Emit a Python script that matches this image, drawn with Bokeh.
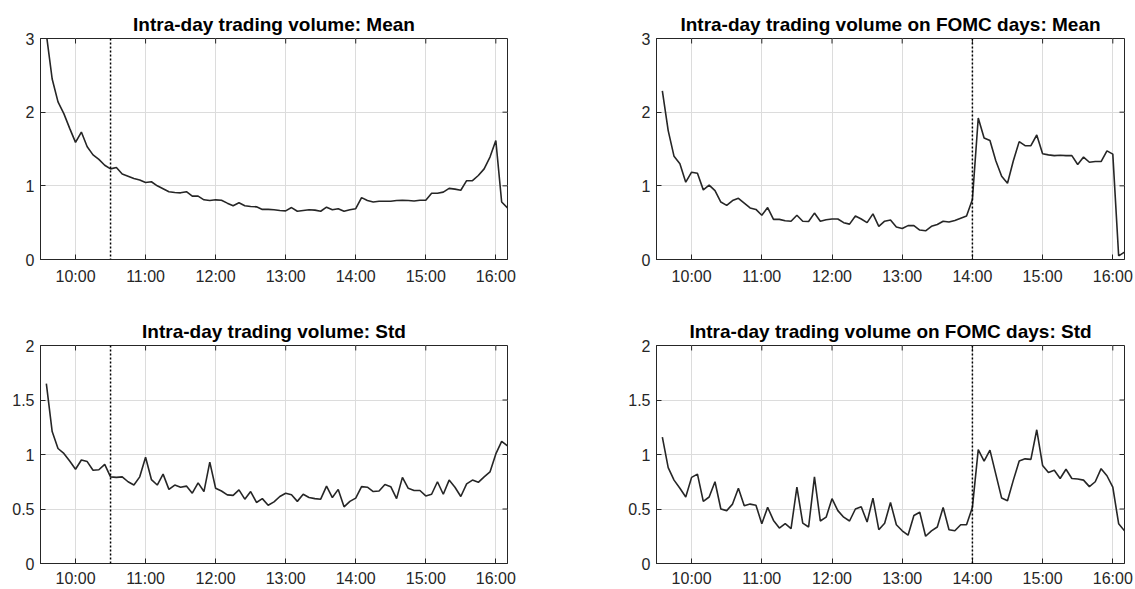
from bokeh.plotting import figure
from bokeh.layouts import column, row
from bokeh.models import Range1d, FixedTicker, Span
from bokeh.embed import file_html
from bokeh.resources import INLINE

# time grid: 5-minute bars from 09:35 to 16:10 (minutes after midnight)
times = [9 * 60 + 35 + 5 * i for i in range(80)]

x_ticks = [600, 660, 720, 780, 840, 900, 960]
x_tick_labels = ["10:00", "11:00", "12:00", "13:00", "14:00", "15:00", "16:00"]

mean_all = [3.06, 2.45, 2.14, 1.98, 1.78,
            1.59, 1.73, 1.53, 1.42, 1.36, 1.28, 1.23, 1.25, 1.16, 1.13, 1.10, 1.08,
            1.045, 1.055, 1.00, 0.96, 0.92, 0.91, 0.905, 0.92, 0.86, 0.86, 0.81, 0.80,
            0.81, 0.805, 0.765, 0.73, 0.77, 0.73, 0.72, 0.715, 0.68, 0.68, 0.675, 0.665,
            0.66, 0.705, 0.655, 0.665, 0.675, 0.67, 0.655, 0.71, 0.675, 0.69, 0.655, 0.675,
            0.69, 0.84, 0.80, 0.78, 0.79, 0.79, 0.79, 0.80, 0.805, 0.80, 0.795, 0.805,
            0.805, 0.90, 0.90, 0.915, 0.965, 0.955, 0.94, 1.07, 1.07, 1.14, 1.23, 1.39,
            1.615, 0.78, 0.70]

std_all = [1.65, 1.21, 1.055, 1.01, 0.94,
           0.865, 0.95, 0.935, 0.855, 0.86, 0.91, 0.795, 0.79, 0.795, 0.75, 0.72, 0.795,
           0.975, 0.77, 0.72, 0.82, 0.68, 0.72, 0.70, 0.71, 0.645, 0.74, 0.66, 0.93,
           0.69, 0.665, 0.63, 0.625, 0.675, 0.59, 0.66, 0.56, 0.595, 0.535, 0.565, 0.615,
           0.645, 0.63, 0.57, 0.635, 0.605, 0.595, 0.59, 0.71, 0.605, 0.68, 0.52, 0.57,
           0.60, 0.705, 0.70, 0.66, 0.665, 0.725, 0.705, 0.595, 0.79, 0.69, 0.67, 0.67,
           0.62, 0.635, 0.75, 0.635, 0.765, 0.70, 0.615, 0.73, 0.765, 0.745, 0.795, 0.84,
           1.005, 1.12, 1.08]

mean_fomc = [2.29, 1.75, 1.40, 1.30, 1.05,
             1.185, 1.17, 0.945, 1.01, 0.935, 0.78, 0.735, 0.80, 0.83, 0.765, 0.70, 0.68,
             0.60, 0.705, 0.545, 0.545, 0.525, 0.52, 0.60, 0.52, 0.515, 0.63, 0.52, 0.54,
             0.55, 0.55, 0.50, 0.48, 0.59, 0.55, 0.50, 0.62, 0.45, 0.52, 0.535, 0.44,
             0.42, 0.46, 0.46, 0.40, 0.39, 0.45, 0.475, 0.52, 0.51, 0.53, 0.56, 0.59,
             0.815, 1.92, 1.65, 1.615, 1.34, 1.13, 1.035, 1.34, 1.60, 1.545, 1.545, 1.69,
             1.435, 1.42, 1.41, 1.415, 1.41, 1.41, 1.29, 1.39, 1.32, 1.33, 1.33, 1.475,
             1.43, 0.05, 0.10]

std_fomc = [1.16, 0.88, 0.765, 0.69, 0.61,
            0.79, 0.82, 0.57, 0.61, 0.75, 0.50, 0.485, 0.545, 0.69, 0.53, 0.545, 0.535,
            0.365, 0.515, 0.395, 0.325, 0.365, 0.32, 0.70, 0.37, 0.335, 0.795, 0.39, 0.425,
            0.595, 0.485, 0.425, 0.39, 0.50, 0.52, 0.38, 0.60, 0.31, 0.37, 0.56, 0.355,
            0.30, 0.26, 0.44, 0.47, 0.25, 0.30, 0.335, 0.515, 0.31, 0.30, 0.355, 0.355,
            0.515, 1.045, 0.94, 1.04, 0.82, 0.60, 0.575, 0.765, 0.94, 0.96, 0.955, 1.227,
            0.90, 0.835, 0.855, 0.78, 0.865, 0.78, 0.775, 0.765, 0.705, 0.75, 0.87, 0.805,
            0.70, 0.365, 0.30]

mean_ticks = [0, 1, 2, 3]
mean_tick_labels = ["0", "1", "2", "3"]
std_ticks = [0, 0.5, 1, 1.5, 2]
std_tick_labels = ["0", "0.5", "1", "1.5", "2"]

titles = ["Intra-day trading volume: Mean",
          "Intra-day trading volume: Std",
          "Intra-day trading volume on FOMC days: Mean",
          "Intra-day trading volume on FOMC days: Std"]
event_times = [630, 840]  # 10:30 and 14:00

AX = "#262626"
FONT = "Liberation Sans"
X0, X1 = 570, 970
TICK_PX = 5


def make_panel(title, ys, yticks, ylabels, ymax, event, width, height, bl, br, bt, bb,
               standoff):
    p = figure(width=width, height=height, output_backend="svg", toolbar_location=None,
               x_range=Range1d(X0, X1), y_range=Range1d(0, ymax),
               min_border_left=bl, min_border_right=br,
               min_border_top=bt, min_border_bottom=bb)
    p.title.text = title
    p.title.align = "center"
    p.title.text_font = FONT
    p.title.text_font_style = "bold"
    p.title.text_font_size = "19px"
    p.title.text_color = "black"
    p.title.standoff = 7
    p.outline_line_color = AX
    p.outline_line_width = 1
    p.outline_line_alpha = 1
    p.background_fill_color = "white"
    p.border_fill_color = "white"

    xt = FixedTicker(ticks=x_ticks)
    yt = FixedTicker(ticks=yticks)
    p.xaxis.ticker = xt
    p.yaxis.ticker = yt
    p.xaxis.major_label_overrides = dict(zip(x_ticks, x_tick_labels))
    p.yaxis.major_label_overrides = dict(zip(yticks, ylabels))
    for ax in (p.xaxis[0], p.yaxis[0]):
        ax.axis_line_color = AX
        ax.major_tick_line_color = AX
        ax.major_tick_in = TICK_PX
        ax.major_tick_out = 0
        ax.minor_tick_line_color = None
        ax.major_label_text_font = FONT
        ax.major_label_text_font_size = "16px"
        ax.major_label_text_color = AX
    p.xaxis.major_label_standoff = standoff
    p.yaxis.major_label_standoff = 6

    p.xgrid.ticker = xt
    p.ygrid.ticker = yt
    p.grid.grid_line_color = "#dcdcdc"
    p.grid.grid_line_width = 1

    # inward ticks on the top and right sides of the box
    fw = width - bl - br
    fh = height - bt - bb
    dy = TICK_PX * ymax / fh
    dx = TICK_PX * (X1 - X0) / fw
    p.segment(x0=x_ticks, y0=[ymax] * len(x_ticks), x1=x_ticks,
              y1=[ymax - dy] * len(x_ticks), line_color=AX, line_width=1)
    p.segment(x0=[X1] * len(yticks), y0=yticks, x1=[X1 - dx] * len(yticks),
              y1=yticks, line_color=AX, line_width=1)

    p.line(times, ys, line_color="#262626", line_width=1.6)
    p.add_layout(Span(location=event, dimension="height", line_color="black",
                      line_width=1.5, line_dash="2 2"))
    return p


p1 = make_panel(titles[0], mean_all, mean_ticks, mean_tick_labels, 3, event_times[0],
                567, 294, 40, 60, 38, 35, 8)
p2 = make_panel(titles[1], std_all, std_ticks, std_tick_labels, 2, event_times[0],
                567, 295, 40, 60, 51, 25, 6)
p3 = make_panel(titles[2], mean_fomc, mean_ticks, mean_tick_labels, 3, event_times[1],
                568, 294, 89, 11, 38, 35, 8)
p4 = make_panel(titles[3], std_fomc, std_ticks, std_tick_labels, 2, event_times[1],
                568, 295, 89, 11, 51, 25, 6)

layout = column(row(p1, p3), row(p2, p4))
open("out.html", "w").write(file_html(layout, INLINE))
